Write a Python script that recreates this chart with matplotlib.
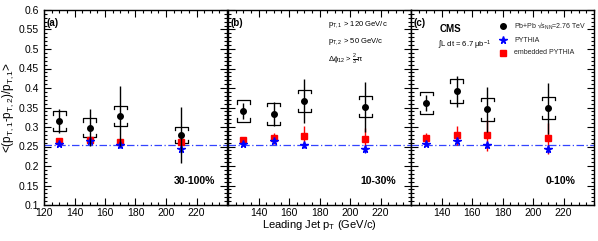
import matplotlib
matplotlib.use("Agg")
import matplotlib.pyplot as plt
from matplotlib.ticker import MultipleLocator
import numpy as np

plt.rcParams['font.family'] = ['Liberation Sans', 'DejaVu Sans']
plt.rcParams['mathtext.fontset'] = 'custom'
plt.rcParams['mathtext.rm'] = 'Liberation Sans'
plt.rcParams['mathtext.it'] = 'Liberation Sans'
plt.rcParams['mathtext.bf'] = 'Liberation Sans:bold'

# ---------------- data ----------------
pt_bins = [130, 150, 170, 210]
panel_labels = ["(a)", "(b)", "(c)"]
centralities = ["30-100%", "10-30%", "0-10%"]

# Pb+Pb data
pbpb_a = [0.315, 0.298, 0.328, 0.279]
pbpb_b = [0.341, 0.333, 0.367, 0.352]
pbpb_c = [0.362, 0.392, 0.345, 0.348]
stat_a = [0.030, 0.047, 0.077, 0.072]
stat_b = [0.020, 0.030, 0.057, 0.064]
stat_c = [0.020, 0.040, 0.057, 0.066]
sys_a = [0.025, 0.024, 0.026, 0.021]
sys_b = [0.027, 0.028, 0.029, 0.027]
sys_c = [0.028, 0.030, 0.029, 0.028]

# embedded PYTHIA
emb_a = [0.264, 0.267, 0.262, 0.261]
emb_b = [0.267, 0.271, 0.278, 0.269]
emb_c = [0.271, 0.279, 0.279, 0.271]
emb_err_a = [0.005, 0.006, 0.008, 0.010]
emb_err_b = [0.008, 0.014, 0.025, 0.028]
emb_err_c = [0.014, 0.024, 0.040, 0.040]

# PYTHIA
pyt = [0.256, 0.264, 0.254, 0.243]
pyt_err = [0.004, 0.006, 0.008, 0.010]

pythia_mean = 0.254

pbpb = [pbpb_a, pbpb_b, pbpb_c]
stat = [stat_a, stat_b, stat_c]
sysu = [sys_a, sys_b, sys_c]
emb = [emb_a, emb_b, emb_c]
emb_err = [emb_err_a, emb_err_b, emb_err_c]

# ---------------- figure ----------------
W, H = 598, 241
fig = plt.figure(figsize=(W / 100, H / 100), dpi=100)

lefts = [44, 228, 411]
pw = 183
bottom_px, top_px = 205, 10
axes = []
for i in range(3):
    ax = fig.add_axes([lefts[i] / W, 1 - bottom_px / H, pw / W, (bottom_px - top_px) / H])
    axes.append(ax)

bw = 4.2      # bracket half-width (x units)
bh = 0.008    # bracket end height

for i, ax in enumerate(axes):
    ax.set_xlim(120, 240)
    ax.set_ylim(0.1, 0.6)
    ax.axhline(pythia_mean, color='#3344ff', lw=0.9, ls=(0, (6, 2, 1, 2)), zorder=1)

    x = np.array(pt_bins, dtype=float)
    y = np.array(pbpb[i])
    s = np.array(sysu[i])
    # systematic brackets
    for xi, yi, si in zip(x, y, s):
        ax.plot([xi - bw, xi - bw, xi + bw, xi + bw], [yi + si - bh, yi + si, yi + si, yi + si - bh],
                color='black', lw=0.9, zorder=3)
        ax.plot([xi - bw, xi - bw, xi + bw, xi + bw], [yi - si + bh, yi - si, yi - si, yi - si + bh],
                color='black', lw=0.9, zorder=3)

    # embedded PYTHIA
    ax.errorbar(x, emb[i], yerr=emb_err[i], fmt='s', color='red', ms=4, lw=1.0,
                capsize=0, zorder=4)
    # PYTHIA
    ax.errorbar(x, pyt, yerr=pyt_err, fmt='*', color='blue', ms=5.5, lw=1.0,
                capsize=0, zorder=5)
    # Pb+Pb
    ax.errorbar(x, y, yerr=stat[i], fmt='o', color='black', ms=4, lw=1.0,
                capsize=0, zorder=6)

    ax.xaxis.set_major_locator(MultipleLocator(20))
    ax.xaxis.set_minor_locator(MultipleLocator(5))
    ax.yaxis.set_major_locator(MultipleLocator(0.05))
    ax.yaxis.set_minor_locator(MultipleLocator(0.01))
    ax.tick_params(which='both', direction='in', top=True, right=True, labelsize=7.5, width=0.8)
    ax.tick_params(which='major', length=5)
    ax.tick_params(which='minor', length=2.5)
    for sp in ax.spines.values():
        sp.set_linewidth(1.0)

    ax.set_xticks([120, 140, 160, 180, 200, 220])
    if i == 0:
        ax.set_yticklabels([('%g' % v) for v in ax.get_yticks()])
    else:
        ax.set_xticklabels(['', '140', '160', '180', '200', '220'])
        ax.set_yticklabels([])
    ax.tick_params(axis='x', pad=2)

    ax.text(0.015, 0.935, panel_labels[i], transform=ax.transAxes, fontsize=7, fontweight='bold',
            ha='left', va='center')
    ax.text(0.82, 0.125, centralities[i], transform=ax.transAxes, fontsize=7.5, fontweight='bold',
            ha='center', va='center')

axes[0].set_ylabel(r'<(p$_{T,1}$-p$_{T,2}$)/p$_{T,1}$>', fontsize=8.5, labelpad=2)
axes[1].set_xlabel(r'Leading Jet p$_T$ (GeV/c)', fontsize=8, labelpad=0)

# panel (b) cuts
axb = axes[1]
axb.text(0.545, 0.925, r'p$_{T,1}$ > 120 GeV/c', transform=axb.transAxes, fontsize=5.5, va='center')
axb.text(0.545, 0.838, r'p$_{T,2}$ > 50 GeV/c', transform=axb.transAxes, fontsize=5.5, va='center')
axb.text(0.545, 0.745, r'$\Delta\phi_{12}$ > $\frac{2}{3}\pi$', transform=axb.transAxes, fontsize=5.5, va='center')

# panel (c) CMS + legend
axc = axes[2]
axc.text(0.155, 0.905, 'CMS', transform=axc.transAxes, fontsize=7, fontweight='bold', va='center')
axc.text(0.145, 0.82, r'$\int$L dt = 6.7 $\mu$b$^{-1}$', transform=axc.transAxes, fontsize=5.5, va='center')
leg_y = [0.918, 0.845, 0.782]
leg_text = [r'Pb+Pb √s$_{NN}$=2.76 TeV', 'PYTHIA', 'embedded PYTHIA']
leg_mk = [('o', 'black', 4), ('*', 'blue', 5.5), ('s', 'red', 4)]
for yy, tt, (mk, cc, ms) in zip(leg_y, leg_text, leg_mk):
    axc.plot([0.505], [yy], marker=mk, color=cc, ms=ms, transform=axc.transAxes, ls='none')
    axc.text(0.565, yy, tt, transform=axc.transAxes, fontsize=5, va='center', color='#222222')

fig.savefig('out.png', dpi=100)
